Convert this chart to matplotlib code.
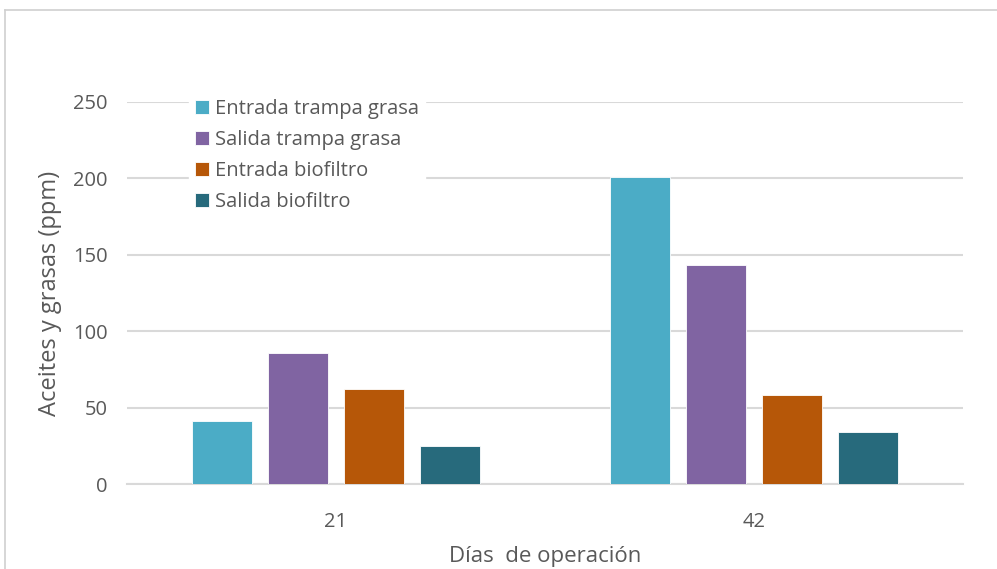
import matplotlib
matplotlib.use("Agg")
import matplotlib.pyplot as plt
import numpy as np
from matplotlib.lines import Line2D

categories = ["21", "42"]
series_names = ["Entrada trampa grasa", "Salida trampa grasa", "Entrada biofiltro", "Salida biofiltro"]
entrada_trampa = [41, 201]
salida_trampa = [86, 143]
entrada_biofiltro = [62, 58]
salida_biofiltro = [25, 34]
yticks = [0, 50, 100, 150, 200, 250]

series = [entrada_trampa, salida_trampa, entrada_biofiltro, salida_biofiltro]
colors = ["#4BACC6", "#8064A2", "#B65708", "#276A7C"]
text_color = "#595959"
grid_color = "#D9D9D9"

plt.rcParams['font.family'] = ['Open Sans', 'DejaVu Sans']

fig = plt.figure(figsize=(9.97, 5.69), dpi=100)
ax = fig.add_axes([127/997, 1-484/569, (963-127)/997, (484-102)/569])

x = np.arange(len(categories))
width = 0.1435
step = 0.182
offsets = (np.arange(4) - 1.5) * step
for i, (vals, c, name) in enumerate(zip(series, colors, series_names)):
    ax.bar(x + offsets[i], vals, width=width, color=c, edgecolor="white",
           linewidth=0.6, label=name, zorder=3)

ax.set_xlim(-0.5, 1.5)
ax.set_ylim(0, 250)
ax.set_yticks(yticks)
ax.set_xticks(x)
ax.set_xticklabels(categories)
ax.yaxis.grid(True, color=grid_color, linewidth=1.5, zorder=0)
ax.set_axisbelow(True)
for s in ["top", "right", "left"]:
    ax.spines[s].set_visible(False)
ax.spines["bottom"].set_color(grid_color)
ax.spines["bottom"].set_linewidth(1.5)
ax.tick_params(axis="both", length=0, colors=text_color, labelsize=14.5)
ax.tick_params(axis="y", pad=14)
ax.tick_params(axis="x", pad=20)

ax.set_ylabel("Aceites y grasas (ppm)", fontsize=17, color=text_color, labelpad=8)
ax.set_xlabel("Días  de operación", fontsize=16, color=text_color, labelpad=10)

leg = ax.legend(loc="upper left", bbox_to_anchor=(0.062, 1.05), frameon=True,
                fontsize=14.5, handlelength=0.7, handleheight=0.7,
                handletextpad=0.3, labelspacing=0.55, borderpad=0.3)
leg.get_frame().set_facecolor("white")
leg.get_frame().set_edgecolor("white")
leg.get_frame().set_alpha(1)
for t in leg.get_texts():
    t.set_color(text_color)

# outer chart border (partially visible)
fig.add_artist(Line2D([5/997, 5/997], [0, 1-10/569], transform=fig.transFigure,
                      color="#D0D0D0", linewidth=1.2))
fig.add_artist(Line2D([5/997, 1], [1-10/569, 1-10/569], transform=fig.transFigure,
                      color="#D0D0D0", linewidth=1.2))

fig.savefig("out.png", dpi=100)
